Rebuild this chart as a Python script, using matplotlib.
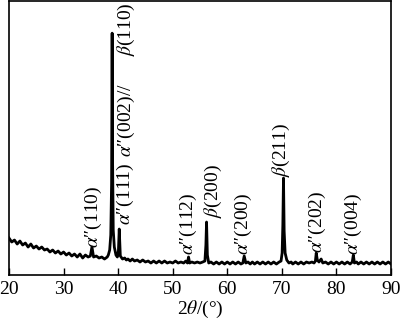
import matplotlib
matplotlib.use("Agg")
import matplotlib.pyplot as plt

plt.rcParams["font.family"] = ["Liberation Serif", "DejaVu Serif"]
plt.rcParams["mathtext.fontset"] = "stix"

# XRD pattern (2theta in degrees, intensity in a.u.)
two_theta = [
    20.0, 20.5, 21.0, 21.5, 22.0, 22.5, 23.0, 23.5, 24.0, 24.5,
    25.0, 25.5, 26.0, 26.5, 27.0, 27.5, 28.0, 28.5, 29.0, 29.5,
    30.0, 30.5, 31.0, 31.5, 32.0, 32.5, 33.0, 33.5, 34.0, 34.5,
    34.9, 35.2, 35.5, 36.0, 36.5, 37.0, 37.5, 38.0, 38.2, 38.45,
    38.65, 38.8, 38.9, 38.98, 39.1, 39.3, 39.6, 39.85, 40.05, 40.2,
    40.4, 40.8, 41.2, 41.5, 41.8, 42.2, 42.6, 43.0, 43.5, 44.0,
    44.5, 45.0, 45.5, 46.0, 46.5, 47.0, 47.5, 48.0, 48.5, 49.0,
    49.5, 50.0, 50.5, 51.0, 51.5, 52.0, 52.4, 52.7, 52.9, 53.1,
    53.5, 54.0, 54.5, 55.0, 55.5, 55.9, 56.08, 56.2, 56.35, 56.6,
    57.0, 57.5, 58.0, 58.5, 59.0, 59.5, 60.0, 60.5, 61.0, 61.5,
    62.0, 62.5, 62.85, 63.1, 63.4, 63.8, 64.2, 64.6, 65.0, 65.5,
    66.0, 66.5, 67.0, 67.5, 68.0, 68.5, 69.0, 69.5, 69.85, 70.05,
    70.18, 70.3, 70.42, 70.6, 70.9, 71.3, 71.7, 72.0, 72.5, 73.0,
    73.5, 74.0, 74.5, 75.0, 75.5, 75.9, 76.15, 76.3, 76.5, 76.8,
    77.2, 77.5, 78.0, 78.5, 79.0, 79.5, 80.0, 80.5, 81.0, 81.5,
    82.0, 82.5, 82.9, 83.1, 83.3, 83.7, 84.0, 84.5, 85.0, 85.5,
    86.0, 86.5, 87.0, 87.5, 88.0, 88.5, 89.0, 89.5, 90.0,
]
intensity = [
    37, 33, 35, 31, 34, 30, 32, 28, 31, 27,
    29, 26, 28, 25, 26, 23, 25, 22, 24, 21,
    23, 20, 22, 19, 21, 18, 21, 17, 20, 18,
    19, 28, 18, 19, 17, 18, 16, 18, 20, 25,
    40, 92, 242, 115, 45, 28, 20, 18, 24, 46,
    19, 16, 17, 15, 16, 14, 16, 14, 15, 13,
    15, 13, 14, 12, 14, 12, 14, 12, 14, 12,
    13, 12, 14, 12, 13, 12, 14, 12, 18, 12,
    13, 12, 13, 12, 13, 14, 30, 53, 20, 12,
    13, 11, 13, 11, 13, 11, 13, 11, 13, 11,
    13, 11, 12, 19, 12, 13, 11, 13, 11, 13,
    11, 13, 11, 13, 11, 13, 11, 13, 14, 22,
    50, 97, 44, 22, 15, 12, 13, 11, 13, 11,
    13, 11, 13, 12, 13, 12, 14, 22, 15, 13,
    16, 12, 13, 11, 13, 11, 13, 11, 13, 11,
    13, 11, 13, 20, 12, 13, 11, 13, 11, 13,
    11, 13, 11, 13, 11, 13, 11, 13, 11,
]

# peak labels: text, x position (deg), bottom of the text (a.u.)
peak_labels = [
    "$\\alpha$\u2033(110)",
    "$\\alpha$\u2033(002)//      $\\beta$(110)",
    "$\\alpha$\u2033(111)",
    "$\\alpha$\u2033(112)",
    "$\\beta$(200)",
    "$\\alpha$\u2033(200)",
    "$\\beta$(211)",
    "$\\alpha$\u2033(202)",
    "$\\alpha$\u2033(004)",
]
label_x = [35.4, 41.6, 41.3, 52.8, 57.4, 62.9, 70.0, 76.6, 83.2]
label_y = [27, 118, 50, 20, 57, 20, 98, 22, 20]

fig = plt.figure(figsize=(4.0, 3.21), dpi=100)
ax = fig.add_axes([0.0225, 0.1433, 0.955, 0.853])

ax.plot(two_theta, intensity, color="black", linewidth=2.0)

for text, x, y in zip(peak_labels, label_x, label_y):
    ax.text(x, y, text, rotation=90, ha="center", va="bottom", fontsize=14)

ax.set_xlim(20, 90)
ax.set_ylim(0, 274)
ax.set_xticks([20, 30, 40, 50, 60, 70, 80, 90])
ax.set_yticks([])
ax.tick_params(axis="x", direction="in", length=5, width=1, labelsize=14, pad=4)
ax.set_xlabel(r"2$\theta$/(°)", fontsize=14, labelpad=1)
for spine in ax.spines.values():
    spine.set_linewidth(1.2)

fig.savefig("out.png", dpi=100)
